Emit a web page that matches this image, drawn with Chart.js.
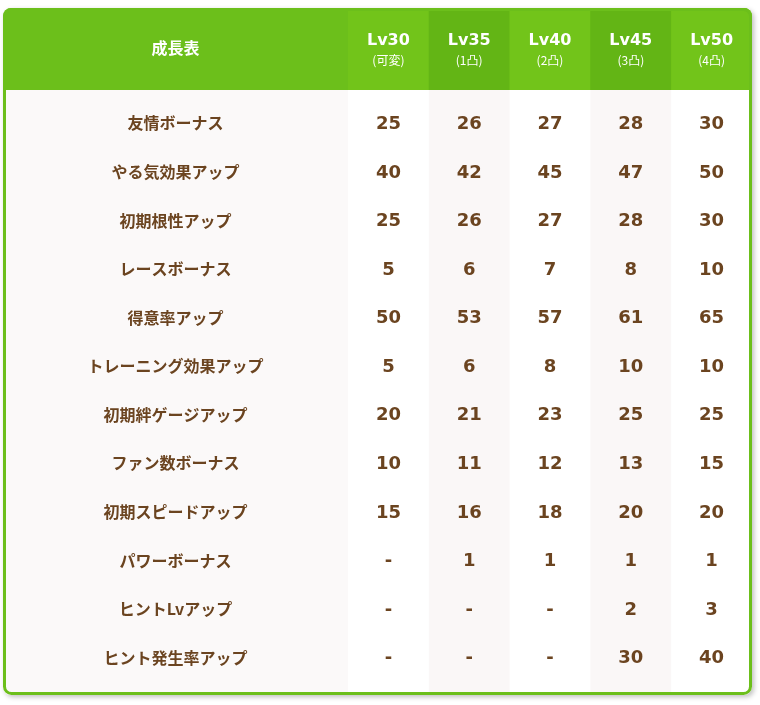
<!DOCTYPE html>
<html><head><meta charset="utf-8">
<script src="https://cdn.jsdelivr.net/npm/chart.js@4"></script>
<style>html,body{margin:0;padding:0;background:#fff}</style>
</head><body>
<canvas id="c" width="760" height="705"></canvas>
<script>
const title = "成長表";
const levels = ["Lv30","Lv35","Lv40","Lv45","Lv50"];
const levelNotes = ["(可変)","(1凸)","(2凸)","(3凸)","(4凸)"];
const rows = ["友情ボーナス","やる気効果アップ","初期根性アップ","レースボーナス","得意率アップ","トレーニング効果アップ","初期絆ゲージアップ","ファン数ボーナス","初期スピードアップ","パワーボーナス","ヒントLvアップ","ヒント発生率アップ"];
const lv30 = [25,40,25,5,50,5,20,10,15,null,null,null];
const lv35 = [26,42,26,6,53,6,21,11,16,1,null,null];
const lv40 = [27,45,27,7,57,8,23,12,18,1,null,null];
const lv45 = [28,47,28,8,61,10,25,13,20,1,2,30];
const lv50 = [30,50,30,10,65,10,25,15,20,1,3,40];
const series = [lv30,lv35,lv40,lv45,lv50];

const TXT = "#6b4420", GREEN = "#6cbf1b";
const tablePlugin = {
  id: "table",
  beforeDraw(chart){
    const ctx = chart.ctx, x = chart.scales.x, y = chart.scales.y, ca = chart.chartArea;
    const L = 3, R = 752, T = 8, B = 695, hb = 90;
    ctx.save();
    ctx.shadowColor = "rgba(0,0,0,0.25)"; ctx.shadowBlur = 5; ctx.shadowOffsetX = 2; ctx.shadowOffsetY = 2;
    ctx.beginPath(); ctx.roundRect(L, T, R-L, B-T, 8); ctx.fillStyle = "#fff"; ctx.fill();
    ctx.shadowColor = "transparent";
    ctx.save(); ctx.beginPath(); ctx.roundRect(L, T, R-L, B-T, 8); ctx.clip();
    ctx.fillStyle = GREEN; ctx.fillRect(L, T, R-L, hb-T);
    const bw = (ca.right-ca.left)/levels.length;
    levels.forEach((lv,i)=>{
      const cx = x.getPixelForValue(i);
      ctx.fillStyle = i%2===0 ? "#72c41a" : "#63b515";
      ctx.fillRect(cx-bw/2, T, bw, hb-T);
      if(i%2===1){ ctx.fillStyle="#faf7f7"; ctx.fillRect(cx-bw/2, hb, bw, B-hb); }
    });
    ctx.fillStyle="#fbf9f9"; ctx.fillRect(L, hb, ca.left-L, B-hb);
    ctx.restore();
    ctx.lineWidth = 3; ctx.strokeStyle = GREEN;
    ctx.beginPath(); ctx.roundRect(L+1.5, T+1.5, R-L-3, B-T-3, 7); ctx.stroke();
    ctx.textAlign = "center"; ctx.textBaseline = "middle"; ctx.fillStyle = "#fff";
    ctx.font = "bold 16px 'Noto Sans CJK JP'";
    ctx.fillText(title, (L+ca.left)/2, 48);
    levels.forEach((lv,i)=>{
      const cx = x.getPixelForValue(i);
      ctx.font = "bold 16px 'DejaVu Sans'"; ctx.fillText(lv, cx, 41);
      ctx.font = "12px 'Noto Sans CJK JP'"; ctx.fillText(levelNotes[i], cx, 60);
    });
    ctx.fillStyle = TXT;
    rows.forEach((r,j)=>{
      const cy = y.getPixelForValue(j);
      ctx.font = "bold 16px 'Noto Sans CJK JP'";
      ctx.fillText(r, (L+ca.left)/2, cy + 1);
      series.forEach((s,i)=>{
        const v = s[j];
        ctx.font = "bold 18px 'DejaVu Sans'";
        ctx.fillText(v==null ? "-" : String(v), x.getPixelForValue(i), cy + 2);
      });
    });
    ctx.restore();
  }
};
new Chart(document.getElementById("c"), {
  type: "bar",
  data: { labels: levels, datasets: [{ data: [0,0,0,0,0], backgroundColor: "transparent" }] },
  options: {
    responsive: false, animation: false,
    layout: { padding: { left: 348, right: 8, top: 98, bottom: 24 } },
    plugins: { legend: { display: false }, tooltip: { enabled: false } },
    scales: {
      x: { type: "category", display: false, offset: true },
      y: { type: "category", labels: rows, display: false, offset: true }
    }
  },
  plugins: [tablePlugin]
});
</script>
</body></html>
